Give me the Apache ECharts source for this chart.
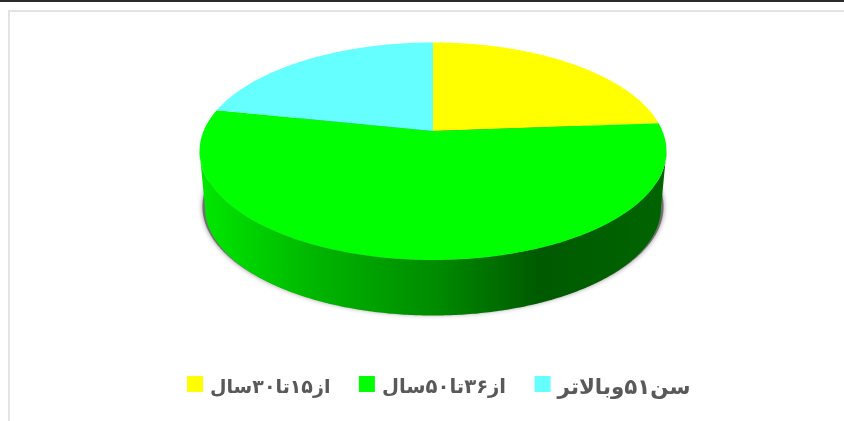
<!DOCTYPE html>
<html><head><meta charset="utf-8">
<style>html,body{margin:0;padding:0;background:#fff}#c{width:844px;height:421px}</style>
<script src="https://cdn.jsdelivr.net/npm/echarts@6/dist/echarts.min.js"></script>
</head><body><div id="c"></div>
<script>
const categories = ['از۱۵تا۳۰سال', 'از۳۶تا۵۰سال', 'سن۵۱وبالاتر'];
const values = [23.8, 54.5, 21.7];
const colors = ['#FFFF00', '#00FF00', '#66FFFF'];
const legendFontSizes = [19, 19.6, 21.4];

// Perspective pie layout (the pie's own "center / radius" settings)
const CX = 433, APEX_TOP = 131, APEX_BASE = 187.5;
const W_TOP = 229.4, H_TOP = 105, W_BASE = 224, H_BASE = 104.2, K = 0.186;
const total = values.reduce((a, b) => a + b, 0);

function proj(a, w, h, apexY) {
  const u = Math.cos(a), v = Math.sin(a), d = 1 + K * v;
  return [CX + w * u / d, apexY - h * v / d];
}
function arc(a0, a1, w, h, y) {
  const n = Math.max(2, Math.ceil(Math.abs(a1 - a0) / 0.01)), pts = [];
  for (let i = 0; i <= n; i++) pts.push(proj(a0 + (a1 - a0) * i / n, w, h, y));
  return pts;
}
const wallFill = {
  type: 'linear', global: true, x: 205, y: 0, x2: 662, y2: 0,
  colorStops: [
    { offset: 0, color: '#00E600' }, { offset: 0.25, color: '#00B400' },
    { offset: 0.5, color: '#008C00' }, { offset: 0.73, color: '#005A00' },
    { offset: 1, color: '#006400' }
  ]
};
const FRONT0 = Math.PI + Math.asin(K), FRONT1 = 2 * Math.PI - Math.asin(K);

function renderSlice(index) {
  return function (params, api) {
    const before = values.slice(0, index).reduce((a, b) => a + b, 0);
    const a0 = Math.PI / 2 - 2 * Math.PI * before / total;
    const a1 = a0 - 2 * Math.PI * api.value(0) / total;
    const children = [];
    const lo = a1 + 2 * Math.PI, hi = a0 + 2 * Math.PI;
    const s = Math.max(lo, FRONT0), e = Math.min(hi, FRONT1);
    if (e > s) {
      const top = arc(s, e, W_TOP, H_TOP, APEX_TOP);
      const base = arc(e, s, W_BASE, H_BASE, APEX_BASE);
      children.push({
        type: 'polygon', shape: { points: top.concat(base) },
        style: { fill: wallFill }
      });
    }
    children.push({
      type: 'polygon',
      shape: { points: [[CX, APEX_TOP]].concat(arc(a0, a1, W_TOP, H_TOP, APEX_TOP)) },
      style: { fill: colors[index] }
    });
    return { type: 'group', children };
  };
}
function renderShadow() {
  return {
    type: 'polygon',
    shape: { points: arc(0, 2 * Math.PI, W_BASE + 2.5, H_BASE, APEX_BASE - 1) },
    style: { fill: '#707070', shadowBlur: 5, shadowColor: 'rgba(0,0,0,0.45)' }
  };
}
const series = [{
  type: 'custom', coordinateSystem: 'none', silent: true, z: 1,
  data: [[1]], renderItem: renderShadow
}];
categories.forEach((name, i) => series.push({
  type: 'custom', name, coordinateSystem: 'none', silent: true, z: 2,
  itemStyle: { color: colors[i] },
  data: [[values[i]]], renderItem: renderSlice(i)
}));

const rich = {};
legendFontSizes.forEach((fontSize, i) => {
  rich['t' + i] = { fontSize, color: '#595959', fontWeight: 'bold', fontFamily: 'DejaVu Sans', padding: [8, 0, 0, 2] };
});

const chart = echarts.init(document.getElementById('c'), null, { renderer: 'canvas' });
chart.setOption({
  animation: false,
  backgroundColor: '#fff',
  graphic: [
    { type: 'rect', shape: { x: 0, y: 0, width: 844, height: 2 }, style: { fill: '#2b2b2b' }, silent: true },
    { type: 'rect', shape: { x: 8, y: 10, width: 836, height: 2 }, style: { fill: '#e3e3e3' }, silent: true },
    { type: 'rect', shape: { x: 8, y: 10, width: 2, height: 411 }, style: { fill: '#e3e3e3' }, silent: true }
  ],
  legend: {
    data: categories,
    formatter: name => `{t${categories.indexOf(name)}|${name}}`,
    left: 187, top: 376, padding: 0, icon: 'rect',
    itemWidth: 16, itemHeight: 16, itemGap: 28.5, selectedMode: false,
    textStyle: { color: '#595959', fontWeight: 'bold', fontFamily: 'DejaVu Sans', rich }
  },
  series
});
</script></body></html>
